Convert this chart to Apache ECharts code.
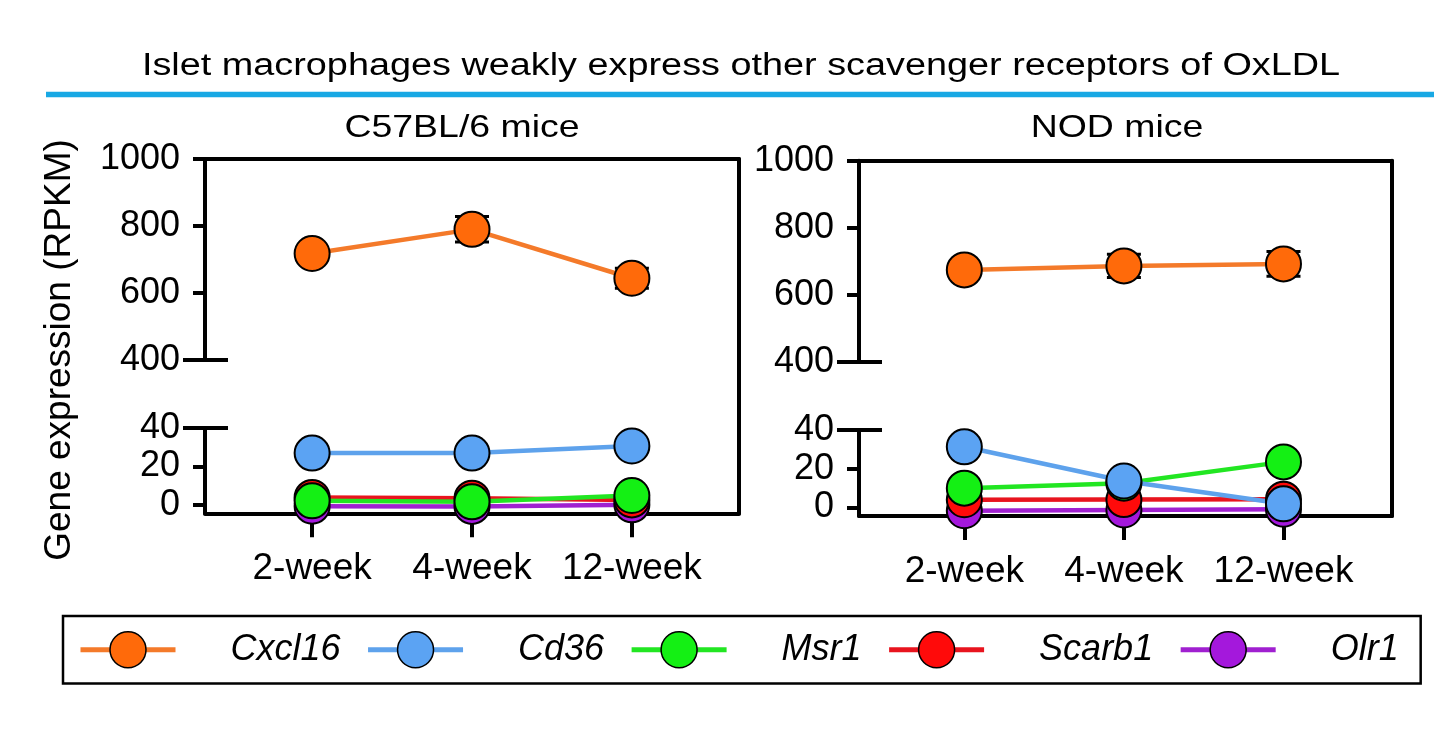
<!DOCTYPE html>
<html>
<head>
<meta charset="utf-8">
<title>Islet macrophages weakly express other scavenger receptors of OxLDL</title>
<script src="https://cdn.jsdelivr.net/npm/echarts@6/dist/echarts.min.js"></script>
<style>
  html, body { margin: 0; padding: 0; background: #fff; }
  #chart { width: 1434px; height: 747px; }
</style>
</head>
<body>
<div id="chart"></div>
<script>
const weeks = ["2-week", "4-week", "12-week"];
const genes = ["Cxcl16", "Cd36", "Msr1", "Scarb1", "Olr1"];

// C57BL/6 mice, mean RPKM (and SEM for Cxcl16)
const b6Cxcl16 = [718, 790, 644];
const b6Cxcl16Err = [10, 38, 30];
const b6Cd36 = [26.9, 26.9, 30.6];
const b6Msr1 = [2.0, 1.5, 4.8];
const b6Scarb1 = [3.8, 3.4, 2.5];
const b6Olr1 = [-0.8, -0.9, -0.1];

// NOD mice
const nodCxcl16 = [674, 686, 692];
const nodCxcl16Err = [10, 35, 37];
const nodCd36 = [31.3, 13.6, 1.8];
const nodMsr1 = [9.9, 12.5, 23.5];
const nodScarb1 = [3.9, 4.0, 4.2];
const nodOlr1 = [-1.8, -1.4, -1.0];

const topTicks = [400, 600, 800, 1000];
const bottomTicks = [0, 20, 40];

const markerColors = {
  Cxcl16: "#FF6A0A",
  Cd36: "#5BA3F3",
  Msr1: "#14F014",
  Scarb1: "#FF0A0A",
  Olr1: "#A418DC"
};
const lineColors = {
  Cxcl16: "#F47A2A",
  Cd36: "#5EA2EC",
  Msr1: "#22E622",
  Scarb1: "#E8141E",
  Olr1: "#A020D0"
};

const FONT = "'Liberation Sans', Arial, Helvetica, sans-serif";
const black = { color: "#000", width: 4 };

const grids = [];
const xAxes = [];
const yAxes = [];
const series = [];

function toPoints(values) {
  return weeks.map((w, i) => [i, values[i]]);
}

function lineSeries(name, values, xi, yi) {
  return {
    type: "line",
    name: name,
    xAxisIndex: xi,
    yAxisIndex: yi,
    data: toPoints(values),
    symbol: "circle",
    symbolSize: 35,
    clip: false,
    silent: true,
    lineStyle: { color: lineColors[name], width: 4.5 },
    itemStyle: { color: markerColors[name], borderColor: "#000", borderWidth: 2 },
    emphasis: { disabled: true }
  };
}

function errorSeries(means, errs, xi, yi) {
  return {
    type: "custom",
    xAxisIndex: xi,
    yAxisIndex: yi,
    silent: true,
    clip: false,
    z: 1,
    data: weeks.map((w, i) => [i, means[i] - errs[i], means[i] + errs[i]]),
    encode: { x: 0, y: [1, 2] },
    renderItem: function (params, api) {
      const lo = api.coord([api.value(0), api.value(1)]);
      const hi = api.coord([api.value(0), api.value(2)]);
      const hw = 17;
      const st = { stroke: "#000", lineWidth: 3 };
      return {
        type: "group",
        children: [
          { type: "line", shape: { x1: lo[0], y1: lo[1], x2: hi[0], y2: hi[1] }, style: st },
          { type: "line", shape: { x1: lo[0] - hw, y1: lo[1], x2: lo[0] + hw, y2: lo[1] }, style: st },
          { type: "line", shape: { x1: hi[0] - hw, y1: hi[1], x2: hi[0] + hw, y2: hi[1] }, style: st }
        ]
      };
    }
  };
}

// main y axis plus the two long ticks marking the axis break
function addYAxes(gridIndex, min, max, ticks, breakValue) {
  yAxes.push({
    gridIndex: gridIndex, type: "value", min: min, max: max, position: "left",
    axisLine: { show: true, onZero: false, lineStyle: black },
    axisTick: { show: true, length: 12, customValues: ticks, lineStyle: black },
    axisLabel: {
      show: true, customValues: ticks, margin: 25, fontSize: 36, color: "#000", fontFamily: FONT,
      formatter: (v) => String(v)
    },
    splitLine: { show: false }
  });
  const main = yAxes.length - 1;
  [false, true].forEach((inside) => {
    yAxes.push({
      gridIndex: gridIndex, type: "value", min: min, max: max, position: "left",
      axisLine: { show: false, onZero: false },
      axisTick: { show: true, inside: inside, length: inside ? 23 : 22, customValues: [breakValue], lineStyle: black },
      axisLabel: { show: false },
      splitLine: { show: false }
    });
  });
  return main;
}

function addPanel(p) {
  const gTop = grids.length;
  grids.push({ left: p.left, top: p.top, width: p.width, height: p.topH, containLabel: false });
  grids.push({ left: p.left, top: p.botTop, width: p.width, height: p.botH, containLabel: false });
  grids.push({ left: p.left, top: p.top, width: p.width, height: p.botTop + p.botH - p.top, containLabel: false });

  // top segment x axis (hidden)
  xAxes.push({ gridIndex: gTop, type: "value", min: p.xMin, max: p.xMax, show: false });
  const xTop = xAxes.length - 1;
  // bottom segment x axis with the week labels
  xAxes.push({
    gridIndex: gTop + 1, type: "value", min: p.xMin, max: p.xMax, position: "bottom",
    axisLine: { show: true, onZero: false, lineStyle: black },
    axisTick: { show: true, length: 24, customValues: [0, 1, 2], lineStyle: black },
    axisLabel: {
      show: true, customValues: [0, 1, 2], margin: 37, fontSize: 37, color: "#000", fontFamily: FONT,
      formatter: (v) => weeks[Math.round(v)]
    },
    splitLine: { show: false }
  });
  const xBot = xAxes.length - 1;
  // frame: top and right lines
  xAxes.push({
    gridIndex: gTop + 2, type: "value", min: 0, max: 1, position: "top",
    axisLine: { show: true, onZero: false, lineStyle: black },
    axisTick: { show: false }, axisLabel: { show: false }, splitLine: { show: false }
  });

  const yTop = addYAxes(gTop, 400, 1000, topTicks, 400);
  const yBot = addYAxes(gTop + 1, -4.5, 40, bottomTicks, 40);
  yAxes.push({
    gridIndex: gTop + 2, type: "value", min: 0, max: 1, position: "right",
    axisLine: { show: true, onZero: false, lineStyle: black },
    axisTick: { show: false }, axisLabel: { show: false }, splitLine: { show: false }
  });

  series.push(errorSeries(p.cxcl16, p.cxcl16Err, xTop, yTop));
  series.push(lineSeries("Cxcl16", p.cxcl16, xTop, yTop));
  // drawn bottom to top: Olr1, Scarb1, Msr1, Cd36
  series.push(lineSeries("Olr1", p.olr1, xBot, yBot));
  series.push(lineSeries("Scarb1", p.scarb1, xBot, yBot));
  series.push(lineSeries("Msr1", p.msr1, xBot, yBot));
  series.push(lineSeries("Cd36", p.cd36, xBot, yBot));
}

addPanel({
  left: 205, width: 534, xMin: -0.67, xMax: 2.67,
  top: 159, topH: 201, botTop: 428, botH: 85.3,
  cxcl16: b6Cxcl16, cxcl16Err: b6Cxcl16Err, cd36: b6Cd36, msr1: b6Msr1, scarb1: b6Scarb1, olr1: b6Olr1
});
addPanel({
  left: 859, width: 533, xMin: -0.66, xMax: 2.68,
  top: 160.7, topH: 201, botTop: 430, botH: 86,
  cxcl16: nodCxcl16, cxcl16Err: nodCxcl16Err, cd36: nodCd36, msr1: nodMsr1, scarb1: nodScarb1, olr1: nodOlr1
});

function label(text, x, y, size, scaleX, rotation) {
  return {
    type: "text", x: x, y: y, scaleX: scaleX || 1, rotation: rotation || 0, silent: true,
    style: {
      text: text, fontSize: size, fontFamily: FONT, fill: "#000",
      textAlign: "center", textVerticalAlign: "middle", align: "center", verticalAlign: "middle"
    }
  };
}

var myChart = echarts.init(document.getElementById("chart"), null, { renderer: "canvas" });

var option = {
  backgroundColor: "#fff",
  animation: false,
  textStyle: { fontFamily: FONT },
  grid: grids,
  xAxis: xAxes,
  yAxis: yAxes,
  series: series,
  legend: {
    data: genes,
    left: 63,
    top: 616,
    orient: "horizontal",
    itemWidth: 95,
    itemHeight: 45,
    itemGap: 25,
    padding: [15, 22, 15, 15],
    borderColor: "#000",
    borderWidth: 2.5,
    selectedMode: false,
    lineStyle: { width: 5 },
    itemStyle: { borderColor: "#000", borderWidth: 1.5 },
    textStyle: { fontFamily: FONT, fontSize: 36, fontStyle: "italic", color: "#000", padding: [0, 0, 0, 50] }
  },
  graphic: [
    label("Islet macrophages weakly express other scavenger receptors of OxLDL", 741, 66, 31, 1.22),
    {
      type: "line", silent: true,
      shape: { x1: 46, y1: 94.5, x2: 1434, y2: 94.5 },
      style: { stroke: "#18A8E4", lineWidth: 5.5 }
    },
    label("C57BL/6 mice", 462, 128, 32, 1.17),
    label("NOD mice", 1117, 128, 32, 1.17),
    label("Gene expression (RPKM)", 60, 350, 37, 1, Math.PI / 2)
  ]
};

if (option && typeof option === "object") {
  myChart.setOption(option);
}

window.addEventListener("resize", myChart.resize);
</script>
</body>
</html>
